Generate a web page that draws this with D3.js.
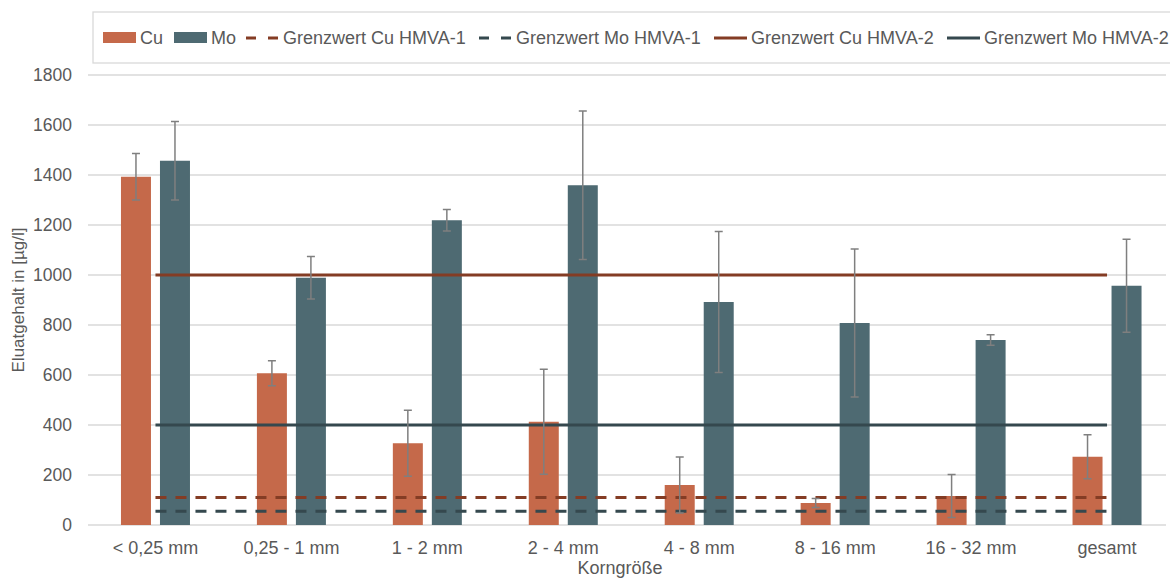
<!DOCTYPE html>
<html>
<head>
<meta charset="utf-8">
<script src="https://cdn.jsdelivr.net/npm/d3@7"></script>
<style>
  body { margin: 0; background: #fff; }
  svg { font-family: "Liberation Sans", Arial, sans-serif; }
</style>
</head>
<body>
<svg id="chart" width="1170" height="579"></svg>
<script>
// categories and values
var categories = ['< 0,25 mm', '0,25 - 1 mm', '1 - 2 mm', '2 - 4 mm', '4 - 8 mm', '8 - 16 mm', '16 - 32 mm', 'gesamt'];
var cuValues = [1393, 607, 327, 413, 160, 88, 116, 273];
var cuErrors = [93, 50, 132, 210, 112, 18, 86, 88];
var moValues = [1457, 989, 1219, 1359, 892, 808, 740, 957];
var moErrors = [157, 85, 43, 297, 282, 296, 21, 186];
var limitCu1 = 110, limitMo1 = 55, limitCu2 = 1000, limitMo2 = 400;
var yTicks = [0, 200, 400, 600, 800, 1000, 1200, 1400, 1600, 1800];

var colCu = '#c5694a', colMo = '#4e6a72', colCuLim = '#843c24', colMoLim = '#35484e';
var textCol = '#595959';

var svg = d3.select('#chart');

// plot area runs a bit past the right edge of the picture
var x = d3.scaleBand().domain(categories).range([87.5, 1175]).paddingInner(0).paddingOuter(0);
var sub = d3.scaleBand().domain(['Cu', 'Mo']).range([-34.5, 34.5]).paddingInner(0.231);
var y = d3.scaleLinear().domain([0, 1800]).range([525, 75]);

function cx(c) { return x(c) + x.bandwidth() / 2; }

// gridlines
svg.append('g').selectAll('line').data(yTicks).join('line')
  .attr('x1', 88).attr('x2', 1166)
  .attr('y1', function(d) { return y(d); }).attr('y2', function(d) { return y(d); })
  .attr('stroke', '#d9d9d9').attr('stroke-width', 1.3);

// y tick labels
svg.append('g').selectAll('text').data(yTicks).join('text')
  .attr('x', 72).attr('y', function(d) { return y(d); })
  .attr('dy', '0.35em').attr('text-anchor', 'end')
  .attr('font-size', 17.5).attr('fill', textCol)
  .text(function(d) { return d; });

// bars
var series = [
  { key: 'Cu', values: cuValues, errors: cuErrors, color: colCu },
  { key: 'Mo', values: moValues, errors: moErrors, color: colMo }
];

series.forEach(function(s) {
  var g = svg.append('g');
  g.selectAll('rect').data(categories).join('rect')
    .attr('x', function(c) { return cx(c) + sub(s.key); })
    .attr('width', sub.bandwidth())
    .attr('y', function(c, i) { return y(s.values[i]); })
    .attr('height', function(c, i) { return y(0) - y(s.values[i]); })
    .attr('fill', s.color);
});

// limit lines
var lines = [
  { v: limitCu1, color: colCuLim, dash: '11,9' },
  { v: limitMo1, color: colMoLim, dash: '11,9' },
  { v: limitCu2, color: colCuLim, dash: null },
  { v: limitMo2, color: colMoLim, dash: null }
];
var lineGen = d3.line().x(function(d) { return cx(d.c); }).y(function(d) { return y(d.v); });
lines.forEach(function(l) {
  svg.append('path')
    .datum(categories.map(function(c) { return { c: c, v: l.v }; }))
    .attr('d', lineGen)
    .attr('fill', 'none')
    .attr('stroke', l.color)
    .attr('stroke-width', 3)
    .attr('stroke-dasharray', l.dash);
});

// error bars
series.forEach(function(s) {
  var g = svg.append('g').attr('stroke', '#7f7f7f').attr('stroke-width', 1.5);
  categories.forEach(function(c, i) {
    var mx = cx(c) + sub(s.key) + sub.bandwidth() / 2;
    var hi = y(s.values[i] + s.errors[i]), lo = y(s.values[i] - s.errors[i]);
    g.append('line').attr('x1', mx).attr('x2', mx).attr('y1', hi).attr('y2', lo);
    g.append('line').attr('x1', mx - 4).attr('x2', mx + 4).attr('y1', hi).attr('y2', hi);
    g.append('line').attr('x1', mx - 4).attr('x2', mx + 4).attr('y1', lo).attr('y2', lo);
  });
});

// category labels
svg.append('g').selectAll('text').data(categories).join('text')
  .attr('x', cx).attr('y', 548).attr('dy', '0.35em')
  .attr('text-anchor', 'middle').attr('font-size', 18).attr('fill', textCol)
  .text(function(d) { return d; });

// axis titles
svg.append('text').attr('x', 620).attr('y', 574)
  .attr('text-anchor', 'middle').attr('font-size', 18).attr('fill', textCol)
  .text('Korngröße');
svg.append('text')
  .attr('transform', 'translate(24,300) rotate(-90)')
  .attr('text-anchor', 'middle').attr('font-size', 17).attr('fill', textCol)
  .text('Eluatgehalt in [µg/l]');

// legend
svg.append('rect').attr('x', 93).attr('y', 12).attr('width', 1090).attr('height', 51)
  .attr('fill', '#fff').attr('stroke', '#d9d9d9').attr('stroke-width', 1.3);

var legendItems = [
  { label: 'Cu', type: 'box', color: colCu, x: 103 },
  { label: 'Mo', type: 'box', color: colMo, x: 174 },
  { label: 'Grenzwert Cu HMVA-1', type: 'dash', color: colCuLim, x: 246 },
  { label: 'Grenzwert Mo HMVA-1', type: 'dash', color: colMoLim, x: 479 },
  { label: 'Grenzwert Cu HMVA-2', type: 'line', color: colCuLim, x: 714 },
  { label: 'Grenzwert Mo HMVA-2', type: 'line', color: colMoLim, x: 947 }
];
var lg = svg.append('g');
legendItems.forEach(function(it) {
  if (it.type === 'box') {
    lg.append('rect').attr('x', it.x).attr('y', 32).attr('width', 33).attr('height', 11).attr('fill', it.color);
  } else {
    lg.append('line').attr('x1', it.x).attr('x2', it.x + 33).attr('y1', 38).attr('y2', 38)
      .attr('stroke', it.color).attr('stroke-width', 3)
      .attr('stroke-dasharray', it.type === 'dash' ? '10,12' : null);
  }
  lg.append('text').attr('x', it.x + 37).attr('y', 38).attr('dy', '0.35em')
    .attr('font-size', 18).attr('fill', textCol).text(it.label);
});
</script>
</body>
</html>
